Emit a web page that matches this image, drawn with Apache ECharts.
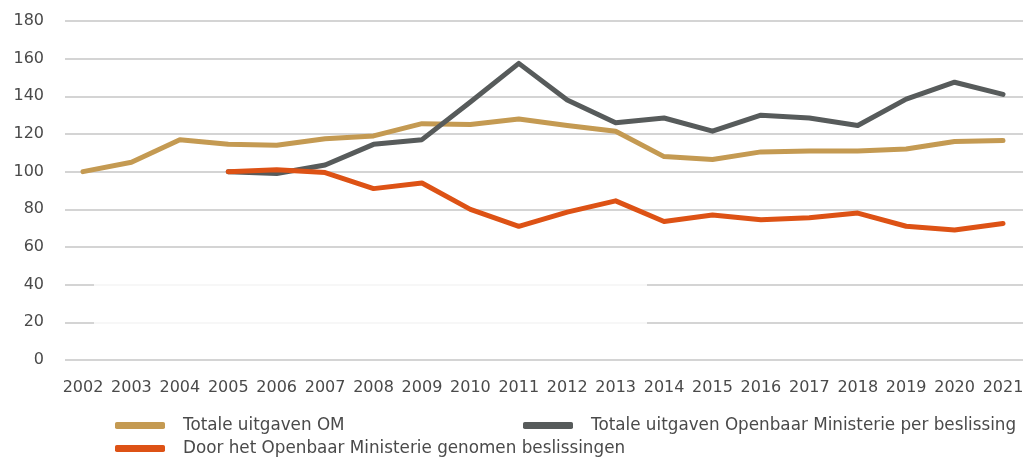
<!DOCTYPE html>
<html>
<head>
<meta charset="utf-8">
<script src="https://cdn.jsdelivr.net/npm/echarts@6/dist/echarts.min.js"></script>
<style>
  html, body { margin: 0; padding: 0; background: #fff; }
  #chart { width: 1035px; height: 457px; }
</style>
</head>
<body>
<div id="chart"></div>
<script>
// years on the x axis
const years = [2002, 2003, 2004, 2005, 2006, 2007, 2008, 2009, 2010, 2011,
    2012, 2013, 2014, 2015, 2016, 2017, 2018, 2019, 2020, 2021];

// index values, 2002 or 2005 = 100
const totaleUitgaven = [100, 105, 117, 114.5, 114, 117.5, 119, 125.5, 125, 128,
    124.5, 121.5, 108, 106.5, 110.5, 111, 111, 112, 116, 116.5];
const perBeslissing = [null, null, null, 100, 99, 103.5, 114.5, 117, 137, 157.5,
    138, 126, 128.5, 121.5, 130, 128.5, 124.5, 138.5, 147.5, 141];
const beslissingen = [null, null, null, 100, 101, 99.5, 91, 94, 80, 71,
    78.5, 84.5, 73.5, 77, 74.5, 75.5, 78, 71, 69, 72.5];

const yTicks = [0, 20, 40, 60, 80, 100, 120, 140, 160, 180];

const names = ['Totale uitgaven OM',
    'Totale uitgaven Openbaar Ministerie per beslissing',
    'Door het Openbaar Ministerie genomen beslissingen'];
const colors = ['#C49A52', '#575B5B', '#DD5215'];

function pairs(values) {
    let out = [];
    for (let i = 0; i < years.length; i++) {
        if (values[i] !== null) {
            out.push([years[i], values[i]]);
        }
    }
    return out;
}

function makeSeries(name, values, color) {
    return {
        name: name,
        type: 'line',
        data: pairs(values),
        symbol: 'none',
        color: color,
        lineStyle: { width: 5, color: color, cap: 'round', join: 'round' },
        z: 3
    };
}

function makeLegend(name, left, top) {
    return {
        data: [name],
        left: left,
        top: top,
        itemWidth: 50,
        itemHeight: 7,
        itemGap: 10,
        icon: 'roundRect',
        textStyle: { fontFamily: 'DejaVu Sans', fontSize: 16.8, color: '#4a4a4a', padding: [0, 0, 0, 13] }
    };
}

let chartDom = document.getElementById('chart');
let myChart = echarts.init(chartDom);
let option;

option = {
    animation: false,
    backgroundColor: '#fff',
    grid: { left: 65, right: 12, top: 21, bottom: 97 },
    xAxis: {
        type: 'value',
        min: 2001.628,
        max: 2021.413,
        axisLine: { show: false },
        axisTick: { show: false },
        splitLine: { show: false },
        axisLabel: {
            customValues: years,
            formatter: function (v) { return String(v); },
            fontFamily: 'DejaVu Sans',
            fontSize: 16,
            color: '#4a4a4a',
            margin: 20
        }
    },
    yAxis: {
        type: 'value',
        min: yTicks[0],
        max: yTicks[yTicks.length - 1],
        interval: 20,
        axisLine: { show: false },
        axisTick: { show: false },
        splitLine: { lineStyle: { color: '#d4d4d4', width: 2 } },
        axisLabel: {
            fontFamily: 'DejaVu Sans',
            fontSize: 16,
            color: '#4a4a4a',
            margin: 21
        }
    },
    legend: [
        makeLegend(names[0], 110, 412),
        makeLegend(names[1], 518, 412),
        makeLegend(names[2], 110, 435)
    ],
    graphic: [{
        type: 'rect',
        shape: { x: 94, y: 278, width: 553, height: 50 },
        style: { fill: 'rgba(255,255,255,0.8)' },
        z: 2
    }],
    series: [
        makeSeries(names[0], totaleUitgaven, colors[0]),
        makeSeries(names[1], perBeslissing, colors[1]),
        makeSeries(names[2], beslissingen, colors[2])
    ]
};

if (option && typeof option === 'object') {
    myChart.setOption(option);
}
</script>
</body>
</html>
